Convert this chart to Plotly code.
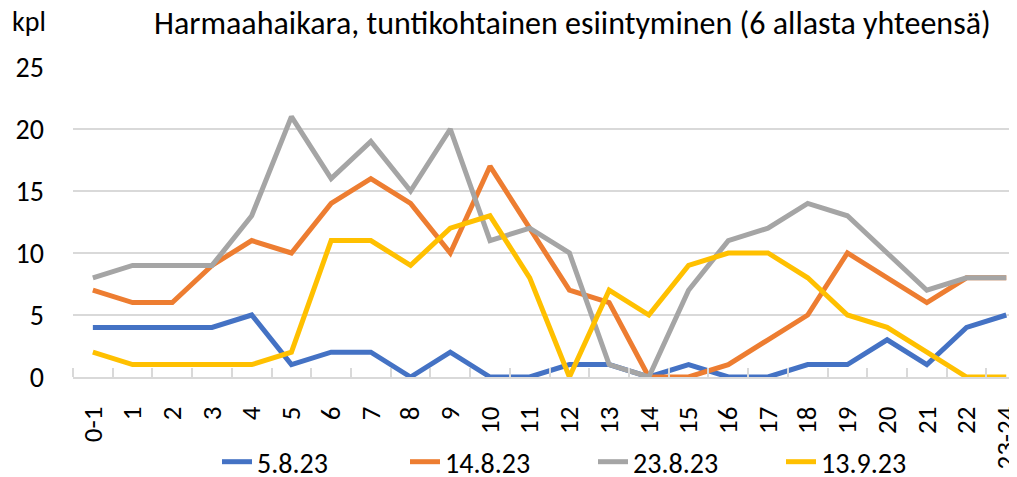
import plotly.graph_objects as go

categories = ["0-1"] + [str(i) for i in range(1, 23)] + ["23-24"]
series_names = ["5.8.23", "14.8.23", "23.8.23", "13.9.23"]
s_5_8 = [4, 4, 4, 4, 5, 1, 2, 2, 0, 2, 0, 0, 1, 1, 0, 1, 0, 0, 1, 1, 3, 1, 4, 5]
s_14_8 = [7, 6, 6, 9, 11, 10, 14, 16, 14, 10, 17, 12, 7, 6, 0, 0, 1, 3, 5, 10, 8, 6, 8, 8]
s_23_8 = [8, 9, 9, 9, 13, 21, 16, 19, 15, 20, 11, 12, 10, 1, 0, 7, 11, 12, 14, 13, 10, 7, 8, 8]
s_13_9 = [2, 1, 1, 1, 1, 2, 11, 11, 9, 12, 13, 8, 0, 7, 5, 9, 10, 10, 8, 5, 4, 2, 0, 0]
colors = ["#4472C4", "#ED7D31", "#A5A5A5", "#FFC000"]

FONT = "Carlito, Calibri, 'Liberation Sans Narrow', Lato, sans-serif"

# page has an 8px body margin; figure placed at (8, 8)
OFF = 8
W, H = 1017 - OFF, 477 - OFF
L, T = 73 - OFF, 67 - OFF
R = 0
B = H - (377 - OFF)
PW, PH = W - L - R, H - T - B


def px_x(x):
    return (x - OFF - L) / PW


def px_y(y):
    return (H - B - (y - OFF)) / PH


fig = go.Figure()
idx = list(range(len(categories)))
for name, vals, c in zip(series_names, [s_5_8, s_14_8, s_23_8, s_13_9], colors):
    fig.add_trace(go.Scatter(x=idx, y=vals, name=name, mode="lines",
                             line=dict(color=c, width=5, shape="linear"),
                             hoverinfo="x+y+name"))

fig.update_layout(
    width=W, height=H,
    margin=dict(l=L, r=R, t=T, b=B, autoexpand=False),
    paper_bgcolor="white", plot_bgcolor="white",
    font=dict(family=FONT, color="#000000", size=28),
    showlegend=True,
    legend=dict(orientation="h", xref="paper", yref="paper",
                x=px_x(217), xanchor="left", y=px_y(462), yanchor="middle",
                font=dict(size=28), entrywidth=143, itemwidth=30,
                bgcolor="rgba(0,0,0,0)"),
    annotations=[
        dict(text="Harmaahaikara, tuntikohtainen esiintyminen (6 allasta yhteensä)",
             xref="paper", yref="paper", x=px_x(572), y=px_y(23),
             yanchor="middle", xanchor="center", showarrow=False,
             font=dict(size=32)),
        dict(text="kpl", xref="paper", yref="paper", x=px_x(10),
             y=px_y(22), xanchor="left", yanchor="middle", showarrow=False,
             font=dict(size=28)),
    ],
)
fig.update_xaxes(
    range=[-0.5, 23.27], tickmode="array", tickvals=idx, ticktext=categories,
    tickangle=-90, ticks="", showgrid=False, zeroline=False, automargin=False,
    ticklabeloverflow="allow", ticklabelstandoff=17,
    showline=True, linecolor="#D9D9D9", linewidth=1.5,
    tickfont=dict(size=27),
    minor=dict(tickmode="linear", tick0=-0.5, dtick=1, ticks="inside",
               ticklen=9, tickcolor="#D9D9D9", tickwidth=1.5, showgrid=False),
)
fig.update_yaxes(
    range=[0, 25], tickmode="linear", tick0=0, dtick=5, automargin=False,
    showgrid=True, gridcolor="#D9D9D9", gridwidth=1.5,
    zeroline=False, showline=False, ticks="", ticklabelstandoff=28,
    tickfont=dict(size=28),
)

fig.write_html("out.html")
